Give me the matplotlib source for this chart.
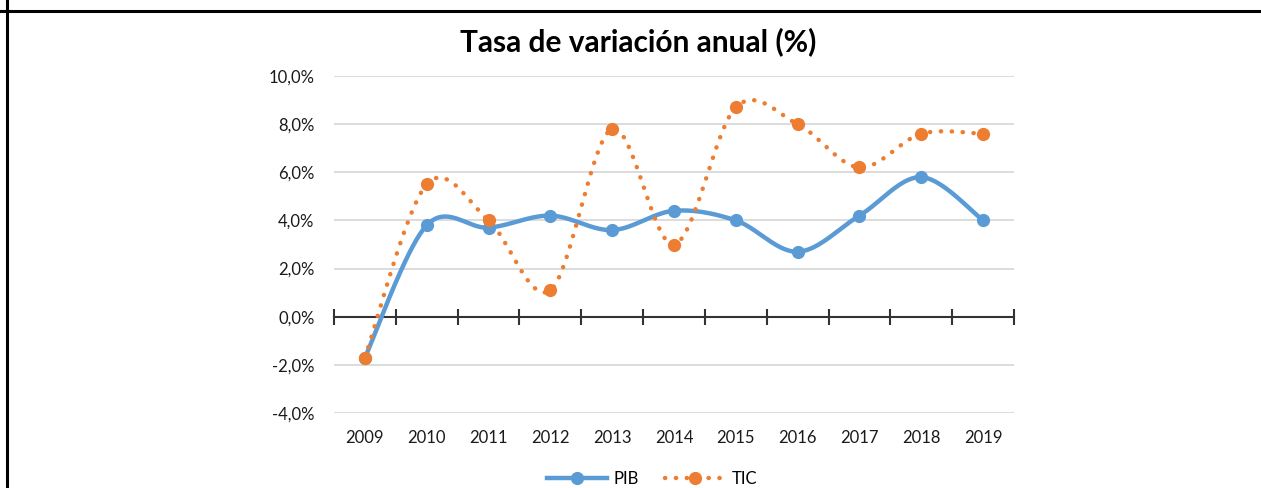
import numpy as np
import matplotlib
matplotlib.use("Agg")
import matplotlib.pyplot as plt
from matplotlib.lines import Line2D
from matplotlib.transforms import blended_transform_factory

plt.rcParams['font.family'] = ['Lato', 'DejaVu Sans']

years = ["2009", "2010", "2011", "2012", "2013", "2014", "2015", "2016", "2017", "2018", "2019"]
pib = [-1.7, 3.8, 3.7, 4.2, 3.6, 4.4, 4.0, 2.7, 4.2, 5.8, 4.0]
tic = [-1.7, 5.5, 4.0, 1.1, 7.8, 3.0, 8.7, 8.0, 6.2, 7.6, 7.6]
yticks = [-4, -2, 0, 2, 4, 6, 8, 10]
title = "Tasa de variación anual (%)"

BLUE = "#5B9BD5"
ORANGE = "#ED7D31"
FS = 12


def smooth(xs, ys, n=40):
    """Excel-like smoothed line (Catmull-Rom Bezier through the points)."""
    pts = np.column_stack([xs, ys]).astype(float)
    out = []
    m = len(pts)
    for i in range(m - 1):
        p0 = pts[i - 1] if i > 0 else pts[i]
        p1 = pts[i]
        p2 = pts[i + 1]
        p3 = pts[i + 2] if i + 2 < m else pts[i + 1]
        c1 = p1 + (p2 - p0) / 6.0
        c2 = p2 - (p3 - p1) / 6.0
        t = np.linspace(0, 1, n)[:, None]
        seg = ((1 - t) ** 3) * p1 + 3 * ((1 - t) ** 2) * t * c1 + 3 * (1 - t) * t ** 2 * c2 + t ** 3 * p2
        out.append(seg if i == 0 else seg[1:])
    arr = np.vstack(out)
    return arr[:, 0], arr[:, 1]


W, H = 1261, 488
fig = plt.figure(figsize=(W / 100, H / 100), dpi=100)
ax = fig.add_axes([334 / W, 75 / H, 680 / W, 337 / H])

x = np.arange(len(years))

ax.set_ylim(-4, 10)
ax.set_xlim(-0.5, len(years) - 0.5)
ax.set_yticks(yticks)
ax.set_yticklabels([f"{v:.1f}%".replace(".", ",") for v in yticks], fontsize=FS, color="#1a1a1a")
ax.tick_params(axis='y', length=0, pad=14)
ax.grid(axis='y', color="#D9D9D9", linewidth=1.3)
ax.set_axisbelow(True)

for s in ['left', 'right', 'top']:
    ax.spines[s].set_visible(False)
ax.spines['bottom'].set_position(('data', 0))
ax.spines['bottom'].set_color("#333333")
ax.spines['bottom'].set_linewidth(1.5)
ax.set_xticks(np.arange(-0.5, len(years), 1.0))
ax.set_xticklabels([])
ax.tick_params(axis='x', direction='inout', length=12, width=1.5, color="#333333")

trans = blended_transform_factory(ax.transData, ax.transAxes)
for xi, lab in zip(x, years):
    ax.text(xi, -0.075, lab, transform=trans, ha='center', va='center', fontsize=FS, color="#1a1a1a")

sx, sy = smooth(x, pib)
ax.plot(sx, sy, color=BLUE, linewidth=3.2, solid_capstyle='round', zorder=3)
ax.plot(x, pib, linestyle='none', marker='o', markersize=8.5, color=BLUE, zorder=4)

tx, ty = smooth(x, tic)
ax.plot(tx, ty, color=ORANGE, linewidth=3.2, linestyle=(0, (0.05, 2.4)), dash_capstyle='round', zorder=3)
ax.plot(x, tic, linestyle='none', marker='o', markersize=8.5, color=ORANGE, zorder=4)

h1 = Line2D([], [], color=BLUE, linewidth=3.2, marker='o', markersize=8.5)
h2 = Line2D([], [], color=ORANGE, linewidth=3.2, linestyle=(0, (0.05, 2.4)), dash_capstyle='round',
            marker='o', markersize=8.5)
fig.legend([h1, h2], ["PIB", "TIC"], loc='center', bbox_to_anchor=(652 / W, 1 - 479 / H), ncol=2,
           frameon=False, fontsize=FS, handlelength=3.6, columnspacing=1.6, handletextpad=0.4)

fig.text(638 / W, 1 - 42 / H, title, ha='center', va='center', fontsize=21.5, fontweight='bold', color="#000000")

fig.add_artist(Line2D([0, 1], [1 - 11 / H, 1 - 11 / H], color='black', linewidth=2.2, transform=fig.transFigure))
fig.add_artist(Line2D([7 / W, 7 / W], [0, 1], color='black', linewidth=2.2, transform=fig.transFigure))

fig.savefig("out.png", dpi=100)
